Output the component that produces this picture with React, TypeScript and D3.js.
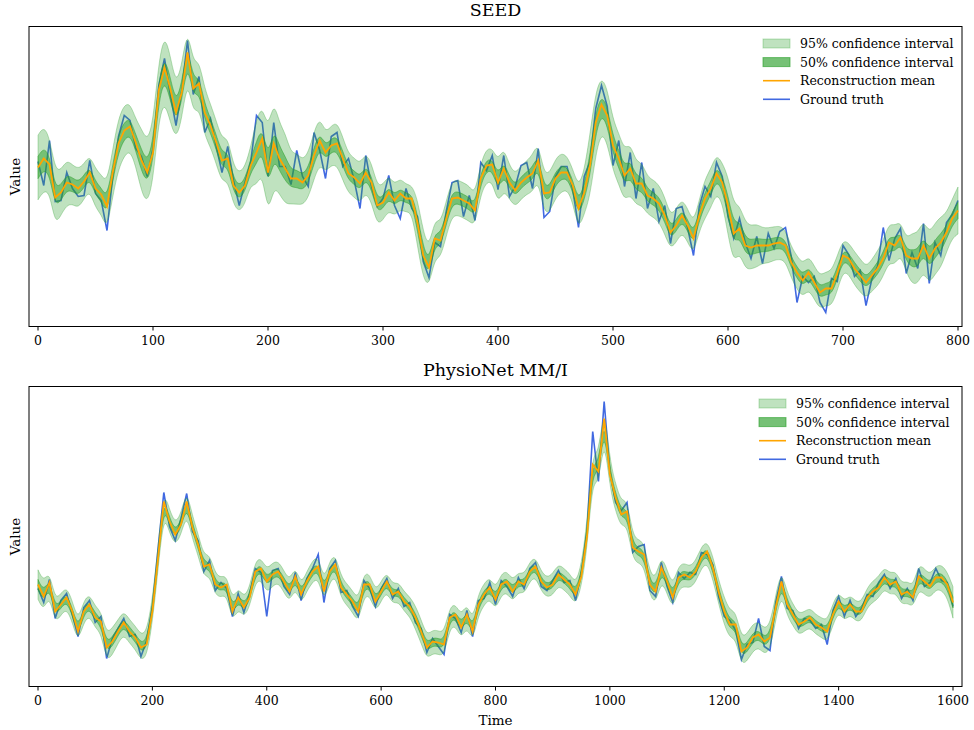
import * as d3 from 'd3';
import React from 'react';

// SEED panel, sampled every 5 time steps (values in plot units)
const seedTime = d3.range(0, 801, 5);
const seedMean = [
    159, 168, 162, 129, 134, 144, 142, 138, 145, 154, 138, 132, 120, 154, 183, 196, 200, 184, 166, 154,
    174, 236, 259, 238, 214, 234, 274, 238, 243, 214, 201, 184, 166, 168, 141, 134, 141, 161, 174, 188,
    154, 183, 168, 158, 148, 148, 144, 151, 171, 186, 174, 181, 183, 168, 153, 149, 143, 154, 144, 121,
    124, 134, 126, 133, 128, 128, 104, 71, 59, 88, 86, 108, 128, 129, 126, 123, 116, 148, 161, 162,
    144, 158, 144, 136, 144, 149, 153, 166, 133, 134, 148, 154, 154, 141, 118, 134, 161, 204, 222, 211,
    181, 168, 151, 158, 143, 143, 131, 128, 123, 111, 94, 101, 111, 101, 88, 111, 128, 138, 153, 144,
    121, 93, 98, 81, 79, 81, 81, 81, 83, 84, 81, 64, 54, 46, 54, 44, 34, 38, 38, 53,
    71, 68, 58, 51, 44, 51, 58, 68, 84, 81, 89, 71, 68, 68, 81, 68, 78, 84, 94, 108,
    116,
];
const seedTruth = [
    165, 141, 186, 125, 126, 154, 138, 130, 131, 166, 133, 126, 96, 150, 190, 211, 206, 178, 170, 150,
    178, 241, 268, 232, 201, 236, 286, 232, 250, 194, 208, 180, 154, 180, 146, 121, 144, 165, 211, 204,
    150, 204, 160, 160, 142, 176, 150, 140, 194, 176, 148, 190, 194, 160, 168, 146, 118, 171, 140, 120,
    128, 151, 121, 108, 138, 118, 110, 65, 49, 84, 80, 115, 144, 146, 110, 131, 106, 164, 156, 171,
    137, 171, 130, 140, 161, 164, 138, 178, 109, 115, 150, 160, 160, 137, 99, 150, 165, 218, 241, 220,
    161, 186, 140, 174, 128, 164, 118, 138, 105, 121, 83, 118, 120, 98, 71, 120, 140, 130, 164, 150,
    110, 88, 108, 84, 68, 90, 63, 93, 78, 95, 99, 70, 24, 50, 44, 50, 24, 14, 48, 45,
    81, 72, 50, 56, 21, 47, 60, 99, 66, 88, 98, 53, 74, 58, 103, 43, 84, 71, 104, 112,
    126,
];
const seedStdTime = d3.range(0, 801, 10);
const seedStd = [
    16.5, 14, 11.5, 10, 9, 10, 12, 13, 12, 16,
    15, 17, 14, 13, 12, 11, 11, 10, 9.5, 17,
    22, 18, 13, 11.5, 12, 10, 11, 10, 10, 10,
    9, 8, 7, 12, 10, 9, 9, 9, 8, 8.5,
    11, 8.5, 8.5, 9.5, 10, 10, 8.5, 11, 16, 14,
    13, 13, 11, 9.5, 9.5, 8.5, 8.5, 8, 10, 10,
    15, 12, 11, 9, 8.5, 8, 8.5, 8.5, 8.5, 9,
    8, 8.5, 8, 9, 10, 8.5, 13, 13, 13, 10,
    12,
];
const seedTicks = [0, 100, 200, 300, 400, 500, 600, 700, 800];

// PhysioNet MM/I panel, sampled every 10 time steps
const physioTime = d3.range(0, 1601, 10);
const physioMean = [
    102, 90, 104, 75, 82, 89, 75, 55, 75, 82, 69, 65, 39, 45, 55, 64, 55, 49, 39, 42,
    75, 129, 185, 165, 152, 162, 185, 159, 142, 120, 122, 102, 99, 102, 75, 89, 79, 89, 115, 118,
    105, 112, 115, 105, 95, 110, 92, 105, 115, 120, 95, 115, 122, 99, 92, 85, 75, 102, 102, 85,
    95, 105, 92, 95, 85, 80, 69, 55, 39, 45, 44, 42, 69, 72, 59, 72, 55, 82, 92, 99,
    87, 102, 105, 95, 105, 102, 115, 120, 105, 99, 102, 112, 107, 102, 92, 110, 150, 222, 215, 268,
    212, 189, 172, 175, 139, 135, 132, 102, 95, 119, 105, 89, 109, 112, 109, 115, 129, 135, 119, 95,
    75, 62, 62, 35, 39, 49, 52, 45, 49, 79, 105, 82, 72, 62, 65, 69, 62, 59, 55, 72,
    85, 75, 82, 75, 75, 89, 95, 99, 109, 102, 105, 92, 95, 89, 110, 105, 100, 109, 109, 102,
    84,
];
const physioTruth = [
    98, 84, 107, 68, 86, 93, 72, 50, 79, 86, 64, 70, 28, 48, 58, 68, 50, 52, 30, 46,
    80, 138, 194, 160, 146, 168, 193, 155, 146, 115, 126, 96, 104, 98, 70, 93, 74, 93, 118, 114,
    70, 116, 118, 100, 92, 114, 86, 108, 118, 132, 84, 118, 126, 94, 96, 80, 70, 106, 98, 80,
    98, 108, 88, 98, 80, 84, 64, 58, 34, 48, 40, 32, 72, 68, 54, 76, 50, 86, 88, 104,
    82, 106, 100, 90, 109, 98, 118, 124, 100, 96, 106, 116, 104, 106, 86, 114, 156, 255, 205, 285,
    215, 184, 176, 184, 134, 140, 142, 96, 90, 124, 100, 84, 114, 108, 114, 112, 134, 132, 122, 90,
    70, 66, 56, 27, 42, 44, 68, 40, 36, 84, 110, 78, 76, 58, 68, 66, 58, 62, 42, 76,
    90, 70, 86, 70, 78, 92, 90, 104, 112, 98, 108, 88, 98, 86, 118, 100, 104, 118, 106, 104,
    80,
];
const physioStdTime = d3.range(0, 1601, 20);
const physioStd = [
    7.5, 6, 5.5, 5.5, 5.5, 5.5, 7, 6, 6, 6.5,
    6, 6, 5.5, 6, 5.5, 5.5, 5, 5.5, 5, 5.5,
    6, 5.5, 5.5, 5, 5.5, 5.5, 5.5, 5.5, 6, 5.5,
    5, 5, 5, 6, 6, 6, 5.5, 6, 5.5, 5.5,
    5.5, 5.5, 5, 5, 5, 5.5, 5.5, 5.5, 7, 8,
    7, 6.5, 6, 6, 6.5, 6, 6, 5.5, 5.5, 6,
    7, 7, 7, 6.5, 6.5, 6, 5.5, 5, 5, 5.5,
    5, 5, 5, 5.5, 5.5, 5.5, 5.5, 6.5, 6, 6.5,
    8,
];
const physioTicks = [0, 200, 400, 600, 800, 1000, 1200, 1400, 1600];

const legendLabels = [
    '95% confidence interval',
    '50% confidence interval',
    'Reconstruction mean',
    'Ground truth',
];

const Z95 = 1.96;
const Z50 = 0.674;
const GREEN = '#2ca02c';
const ORANGE = '#ffa500';
const BLUE = '#4169e1';
const FONT = 'DejaVu Serif';

type PanelProps = {
    id: string;
    title: string;
    time: number[];
    mean: number[];
    truth: number[];
    stdTime: number[];
    std: number[];
    ticks: number[];
    xEnd: number;
    top: number;
    legendX: number;
};

const Panel: React.FC<PanelProps> = ({
    id,
    title,
    time,
    mean,
    truth,
    stdTime,
    std,
    ticks,
    xEnd,
    top,
    legendX,
}) => {
    const left = 29;
    const right = 962;
    const height = 300;
    const bottom = top + height;

    const x = d3
        .scaleLinear()
        .domain([0, ticks[ticks.length - 1]])
        .range([38, xEnd]);
    const y = d3.scaleLinear().domain([0, 300]).range([bottom, top]);

    // nearest std reading for every time step
    const sd = time.map(
        (t) => std[d3.minIndex(stdTime, (s) => Math.abs(s - t))],
    );

    const band = (z: number) =>
        d3
            .area<number>()
            .curve(d3.curveBasis)
            .x((t) => x(t))
            .y0((_, i) => y(mean[i] - z * sd[i]))
            .y1((_, i) => y(mean[i] + z * sd[i]))(time) || '';

    const line = (vals: number[]) =>
        d3
            .line<number>()
            .x((t) => x(t))
            .y((_, i) => y(vals[i]))(time) || '';

    return (
        <g>
            <defs>
                <clipPath id={`clip-${id}`}>
                    <rect x={left} y={top} width={right - left} height={height} />
                </clipPath>
            </defs>
            <text
                x={(left + right) / 2}
                y={top - 11}
                textAnchor="middle"
                fontSize={17.5}
                fontFamily={FONT}
            >
                {title}
            </text>
            <g clipPath={`url(#clip-${id})`}>
                <path d={line(truth)} fill="none" stroke={BLUE} strokeWidth={1.6} />
                <path
                    d={band(Z95)}
                    fill={GREEN}
                    fillOpacity={0.3}
                    stroke={GREEN}
                    strokeOpacity={0.3}
                    strokeWidth={1}
                />
                <path
                    d={band(Z50)}
                    fill={GREEN}
                    fillOpacity={0.5}
                    stroke={GREEN}
                    strokeOpacity={0.5}
                    strokeWidth={1}
                />
                <path d={line(mean)} fill="none" stroke={ORANGE} strokeWidth={1.8} />
            </g>
            <rect
                x={left}
                y={top}
                width={right - left}
                height={height}
                fill="none"
                stroke="#000"
                strokeWidth={1}
            />
            {ticks.map((t) => (
                <g key={t} transform={`translate(${x(t)},${bottom})`}>
                    <line y1={0} y2={4} stroke="#000" strokeWidth={1} />
                    <text
                        y={18}
                        textAnchor="middle"
                        fontSize={12.5}
                        fontFamily={FONT}
                    >
                        {t}
                    </text>
                </g>
            ))}
            <text
                transform={`translate(20,${top + height / 2}) rotate(-90)`}
                textAnchor="middle"
                fontSize={13.5}
                fontFamily={FONT}
            >
                Value
            </text>
            {legendLabels.map((label, i) => {
                const cy = top + 17 + i * 18.6;
                return (
                    <g key={label}>
                        {i === 0 && (
                            <rect
                                x={legendX}
                                y={cy - 4.5}
                                width={27}
                                height={9}
                                fill={GREEN}
                                fillOpacity={0.3}
                                stroke={GREEN}
                                strokeOpacity={0.3}
                            />
                        )}
                        {i === 1 && (
                            <rect
                                x={legendX}
                                y={cy - 4.5}
                                width={27}
                                height={9}
                                fill={GREEN}
                                fillOpacity={0.65}
                                stroke={GREEN}
                                strokeOpacity={0.65}
                            />
                        )}
                        {i > 1 && (
                            <line
                                x1={legendX}
                                x2={legendX + 27}
                                y1={cy}
                                y2={cy}
                                stroke={i === 2 ? ORANGE : BLUE}
                                strokeWidth={1.6}
                            />
                        )}
                        <text
                            x={legendX + 37}
                            y={cy + 4.5}
                            fontSize={12.5}
                            fontFamily={FONT}
                        >
                            {label}
                        </text>
                    </g>
                );
            })}
        </g>
    );
};

const App: React.FC = () => {
    return (
        <div style={{ position: 'absolute', left: 0, top: 0 }}>
            <svg width={974} height={730} style={{ display: 'block', background: '#fff' }}>
                <Panel
                    id="seed"
                    title="SEED"
                    time={seedTime}
                    mean={seedMean}
                    truth={seedTruth}
                    stdTime={seedStdTime}
                    std={seedStd}
                    ticks={seedTicks}
                    xEnd={958}
                    top={26.5}
                    legendX={763}
                />
                <Panel
                    id="physio"
                    title="PhysioNet MM/I"
                    time={physioTime}
                    mean={physioMean}
                    truth={physioTruth}
                    stdTime={physioStdTime}
                    std={physioStd}
                    ticks={physioTicks}
                    xEnd={953}
                    top={386.5}
                    legendX={759}
                />
                <text
                    x={495.5}
                    y={725}
                    textAnchor="middle"
                    fontSize={13.5}
                    fontFamily={FONT}
                >
                    Time
                </text>
            </svg>
        </div>
    );
};

export default App;
